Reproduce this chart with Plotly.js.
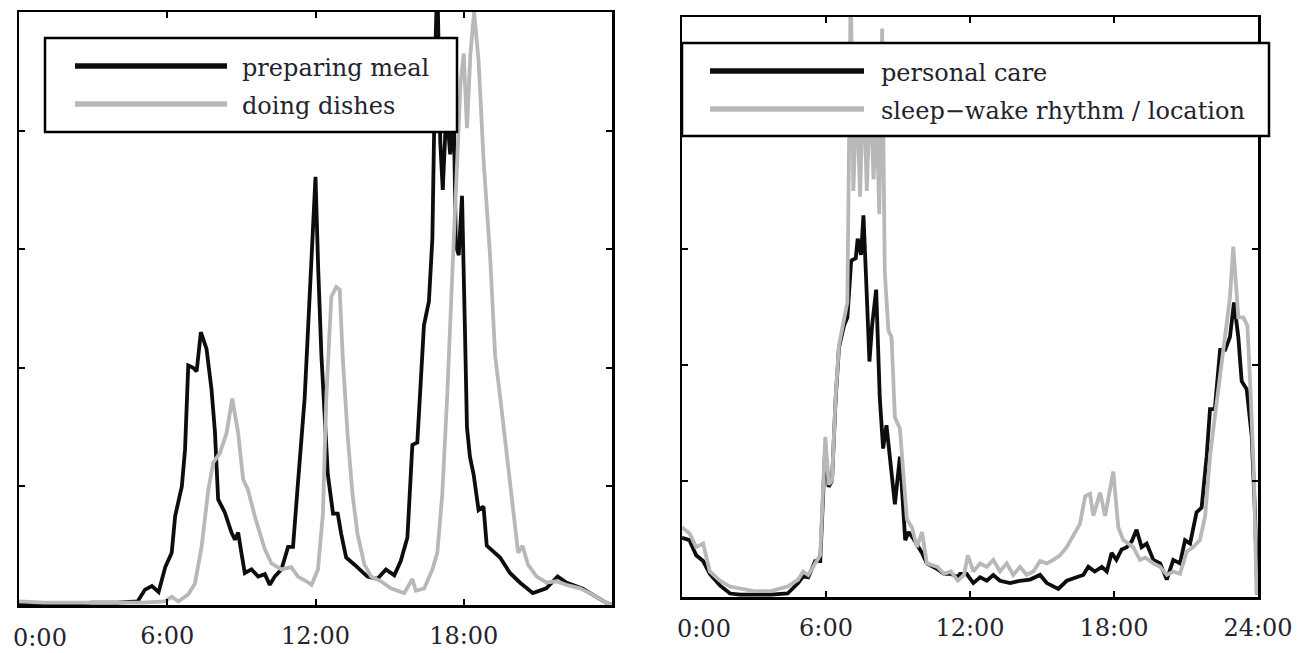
<!DOCTYPE html>
<html>
<head>
<meta charset="utf-8">
<script src="https://cdn.plot.ly/plotly-3.0.1.min.js"></script>
<style>html,body{margin:0;padding:0;background:#fff;}#chart{width:1299px;height:653px;}</style>
</head>
<body>
<div id="chart"></div>
<script>
// ---------- data (hours of day, relative frequency) ----------
const mealHours = [0,1,2,3,4,4.5,4.8,5.1,5.38,5.65,5.92,6.18,6.32,6.59,6.72,6.85,7.05,7.19,7.36,7.59,7.79,7.93,8.06,8.33,8.6,8.74,8.87,9.0,9.14,9.41,9.68,9.95,10.15,10.35,10.62,10.89,11.09,11.29,11.56,11.84,12.0,12.11,12.24,12.37,12.5,12.71,12.9,13.04,13.24,13.58,13.85,14.1,14.5,14.85,15.19,15.45,15.72,15.92,16.12,16.39,16.59,16.73,16.86,16.93,17.05,17.15,17.3,17.45,17.6,17.68,17.8,17.93,18.05,18.13,18.25,18.4,18.6,18.8,18.93,19.27,19.47,19.87,20.27,20.8,21.34,21.8,22.15,22.8,23.5,23.75,24];
const mealValues = [0.0,0.01,0.01,0.02,0.02,0.03,0.03,0.13,0.16,0.11,0.32,0.44,0.75,1.0,1.31,2.02,2.0,1.97,2.30,2.16,1.82,1.46,0.89,0.78,0.61,0.55,0.61,0.44,0.27,0.30,0.24,0.26,0.17,0.24,0.30,0.49,0.49,1.03,1.74,2.93,3.61,2.83,2.10,1.6,1.1,0.77,0.77,0.6,0.4,0.34,0.29,0.24,0.22,0.30,0.25,0.37,0.57,1.35,1.37,2.36,2.56,3.09,4.75,5.3,3.9,3.5,4.2,3.8,4.1,3.03,2.95,3.45,2.3,1.5,1.25,1.1,0.8,0.83,0.5,0.44,0.40,0.27,0.19,0.1,0.14,0.24,0.19,0.14,0.05,0.02,0.0];

const dishesHours = [0,1,2,3,4,5,5.9,6.18,6.45,6.85,7.12,7.39,7.66,7.86,8.13,8.4,8.63,8.87,9.07,9.27,9.54,9.95,10.22,10.62,11.02,11.29,11.63,11.84,12.1,12.3,12.44,12.64,12.84,12.98,13.1,13.3,13.5,13.7,13.98,14.25,14.65,15.05,15.59,15.92,16.06,16.4,16.73,16.93,17.13,17.33,17.53,17.73,17.87,18.0,18.13,18.27,18.42,18.6,18.8,19.07,19.27,19.47,19.74,20.0,20.2,20.38,20.6,20.95,21.34,21.75,22.15,22.7,23.2,23.75,24];
const dishesValues = [0.03,0.02,0.02,0.02,0.02,0.02,0.03,0.07,0.03,0.09,0.18,0.49,0.97,1.2,1.28,1.45,1.74,1.45,1.06,0.97,0.75,0.47,0.35,0.30,0.32,0.24,0.2,0.17,0.30,0.77,1.76,2.6,2.68,2.66,2.1,1.43,0.93,0.6,0.34,0.24,0.2,0.14,0.10,0.22,0.12,0.14,0.30,0.44,0.93,1.76,2.76,3.76,4.4,4.65,4.02,4.65,5.0,4.59,3.76,2.93,2.1,1.76,1.27,0.77,0.44,0.5,0.34,0.24,0.19,0.2,0.17,0.14,0.09,0.02,0.0];

const careHours = [0,0.31,0.59,0.88,1.16,1.58,2.0,2.43,3.0,3.7,4.4,4.84,5.05,5.26,5.55,5.76,5.97,6.11,6.25,6.4,6.54,6.75,6.89,7.05,7.24,7.32,7.46,7.56,7.67,7.81,7.92,8.09,8.24,8.38,8.52,8.73,8.87,9.08,9.3,9.44,9.65,10.0,10.2,10.64,10.92,11.2,11.49,11.58,11.86,12.14,12.42,12.7,12.97,13.25,13.67,14.08,14.5,14.92,15.2,15.68,16.03,16.44,16.72,16.93,17.2,17.49,17.7,17.9,18.1,18.32,18.53,18.74,18.94,19.15,19.36,19.64,19.92,20.2,20.47,20.75,20.96,21.17,21.44,21.65,21.86,22.0,22.2,22.42,22.63,22.83,23.0,23.18,23.32,23.53,23.74,23.88,23.97];
const careValues = [0.51,0.49,0.36,0.31,0.2,0.10,0.03,0.02,0.02,0.02,0.03,0.12,0.18,0.17,0.31,0.31,1.3,0.95,1.0,1.7,2.15,2.34,2.41,2.9,2.92,3.09,2.95,3.29,2.75,2.03,2.34,2.65,1.72,1.28,1.48,1.11,0.80,1.21,0.49,0.56,0.5,0.38,0.29,0.24,0.2,0.2,0.17,0.2,0.2,0.12,0.17,0.14,0.19,0.14,0.12,0.14,0.15,0.19,0.12,0.07,0.14,0.17,0.19,0.26,0.22,0.26,0.22,0.38,0.32,0.41,0.43,0.48,0.58,0.43,0.46,0.32,0.29,0.15,0.32,0.29,0.49,0.46,0.73,0.77,1.21,1.62,1.62,2.13,2.13,2.24,2.54,2.24,1.86,1.79,1.38,0.7,0.02];

const sleepHours = [0,0.31,0.59,0.88,1.16,1.58,2.0,2.43,3.0,3.7,4.4,4.84,5.05,5.26,5.55,5.76,5.97,6.11,6.25,6.4,6.54,6.75,6.89,6.96,7.03,7.14,7.28,7.42,7.56,7.7,7.85,7.98,8.1,8.22,8.34,8.45,8.6,8.73,8.87,9.08,9.22,9.37,9.58,9.79,10.0,10.2,10.64,10.92,11.2,11.49,11.75,11.91,12.14,12.42,12.7,12.97,13.25,13.53,13.8,14.08,14.36,14.64,14.92,15.2,15.47,15.75,16.03,16.3,16.58,16.8,17.0,17.14,17.42,17.63,17.97,18.18,18.39,18.6,18.8,19.08,19.3,19.64,19.92,20.2,20.47,20.75,21.03,21.3,21.58,21.8,22.0,22.2,22.42,22.63,22.83,22.97,23.18,23.39,23.56,23.7,23.83,23.94];
const sleepValues = [0.60,0.55,0.43,0.46,0.22,0.14,0.09,0.07,0.05,0.05,0.09,0.15,0.22,0.19,0.29,0.36,1.38,0.97,1.0,1.72,2.17,2.41,2.54,3.9,5.3,3.5,4.4,3.45,4.5,3.5,4.4,3.6,4.2,3.3,4.9,2.8,2.3,2.24,1.55,1.45,1.04,0.67,0.6,0.43,0.56,0.29,0.26,0.2,0.22,0.14,0.19,0.36,0.22,0.29,0.26,0.32,0.22,0.29,0.19,0.26,0.19,0.22,0.31,0.29,0.32,0.36,0.43,0.53,0.63,0.87,0.89,0.70,0.9,0.70,1.08,0.6,0.49,0.46,0.43,0.32,0.34,0.29,0.26,0.19,0.22,0.2,0.39,0.43,0.49,0.70,1.21,1.55,1.89,2.24,2.58,3.02,2.41,2.41,2.34,1.72,1.04,0.02];

const leftTickVals = [6, 12, 18];
const leftTickText = ['6:00', '12:00', '18:00'];
const rightTickVals = [6, 12, 18, 24];
const rightTickText = ['6:00', '12:00', '18:00', '24:00'];
const zeroLabel = '0:00';
const leftNames = ['preparing meal', 'doing dishes'];
const rightNames = ['personal care', 'sleep\u2212wake rhythm / location'];

// ---------- layout helpers ----------
const W = 1299, H = 653;
const px = v => v / W;
const py = v => 1 - v / H;
const FONT = 'DejaVu Serif, Liberation Serif, serif';
const TXT = '#23232e';
const BLACK = '#0d0d0d';
const GRAY = '#b8b8b8';

const traces = [
  {x: mealHours, y: mealValues, name: leftNames[0], type: 'scatter', mode: 'lines',
   line: {color: BLACK, width: 3.8}, xaxis: 'x', yaxis: 'y'},
  {x: dishesHours, y: dishesValues, name: leftNames[1], type: 'scatter', mode: 'lines',
   line: {color: GRAY, width: 3.8}, xaxis: 'x', yaxis: 'y'},
  {x: careHours, y: careValues, name: rightNames[0], type: 'scatter', mode: 'lines',
   line: {color: BLACK, width: 3.8}, xaxis: 'x2', yaxis: 'y2'},
  {x: sleepHours, y: sleepValues, name: rightNames[1], type: 'scatter', mode: 'lines',
   line: {color: GRAY, width: 3.8}, xaxis: 'x2', yaxis: 'y2'}
];

const axisCommon = {
  showline: true, linecolor: '#000', linewidth: 2.5, mirror: 'ticks',
  ticks: 'inside', ticklen: 6, tickwidth: 2, tickcolor: '#000',
  showgrid: false, zeroline: false, fixedrange: true,
  tickfont: {family: FONT, size: 24, color: TXT}
};

const L = {x0: 19, x1: 612, top: 12, bottom: 605};
const R = {x0: 682, x1: 1258, top: 17, bottom: 597};

const layout = {
  width: W, height: H,
  margin: {l: 0, r: 0, t: 0, b: 0, pad: 0},
  paper_bgcolor: '#fff', plot_bgcolor: '#fff',
  showlegend: false,
  xaxis: Object.assign({}, axisCommon, {domain: [px(L.x0), px(L.x1)], range: [0, 24],
    tickmode: 'array', tickvals: leftTickVals, ticktext: leftTickText, anchor: 'y', ticklabelstandoff: 8}),
  yaxis: Object.assign({}, axisCommon, {domain: [py(L.bottom), py(L.top)], range: [0, 5],
    tickvals: [1, 2, 3, 4], showticklabels: false, anchor: 'x'}),
  xaxis2: Object.assign({}, axisCommon, {domain: [px(R.x0), px(R.x1)], range: [0, 24],
    tickmode: 'array', tickvals: rightTickVals, ticktext: rightTickText, anchor: 'y2', ticklabelstandoff: 8}),
  yaxis2: Object.assign({}, axisCommon, {domain: [py(R.bottom), py(R.top)], range: [0, 5],
    tickvals: [1, 2, 3, 4], showticklabels: false, anchor: 'x2'}),
  shapes: [
    // left legend box
    {type: 'rect', xref: 'paper', yref: 'paper', x0: px(45), x1: px(457), y0: py(132), y1: py(38),
     fillcolor: '#fff', line: {color: '#000', width: 2.5}, layer: 'above'},
    {type: 'line', xref: 'paper', yref: 'paper', x0: px(75), x1: px(227), y0: py(66), y1: py(66),
     line: {color: BLACK, width: 5.5}, layer: 'above'},
    {type: 'line', xref: 'paper', yref: 'paper', x0: px(75), x1: px(227), y0: py(104), y1: py(104),
     line: {color: GRAY, width: 5.5}, layer: 'above'},
    // right legend box
    {type: 'rect', xref: 'paper', yref: 'paper', x0: px(682), x1: px(1269), y0: py(136), y1: py(43),
     fillcolor: '#fff', line: {color: '#000', width: 2.5}, layer: 'above'},
    {type: 'line', xref: 'paper', yref: 'paper', x0: px(710), x1: px(864), y0: py(71), y1: py(71),
     line: {color: BLACK, width: 5.5}, layer: 'above'},
    {type: 'line', xref: 'paper', yref: 'paper', x0: px(710), x1: px(864), y0: py(109), y1: py(109),
     line: {color: GRAY, width: 5.5}, layer: 'above'}
  ],
  annotations: [
    {text: leftNames[0], xref: 'paper', yref: 'paper', x: px(240), y: py(68), xanchor: 'left', yanchor: 'middle',
     showarrow: false, font: {family: FONT, size: 24, color: TXT}},
    {text: leftNames[1], xref: 'paper', yref: 'paper', x: px(240), y: py(106), xanchor: 'left', yanchor: 'middle',
     showarrow: false, font: {family: FONT, size: 24, color: TXT}},
    {text: rightNames[0], xref: 'paper', yref: 'paper', x: px(879), y: py(73), xanchor: 'left', yanchor: 'middle',
     showarrow: false, font: {family: FONT, size: 24, color: TXT}},
    {text: rightNames[1], xref: 'paper', yref: 'paper', x: px(879), y: py(111), xanchor: 'left', yanchor: 'middle',
     showarrow: false, font: {family: FONT, size: 24, color: TXT}},
    {text: zeroLabel, xref: 'paper', yref: 'paper', x: px(40), y: py(638), xanchor: 'center', yanchor: 'middle',
     showarrow: false, font: {family: FONT, size: 24, color: TXT}},
    {text: zeroLabel, xref: 'paper', yref: 'paper', x: px(704), y: py(629), xanchor: 'center', yanchor: 'middle',
     showarrow: false, font: {family: FONT, size: 24, color: TXT}}
  ]
};

Plotly.newPlot('chart', traces, layout, {displayModeBar: false, staticPlot: true});
</script>
</body>
</html>
